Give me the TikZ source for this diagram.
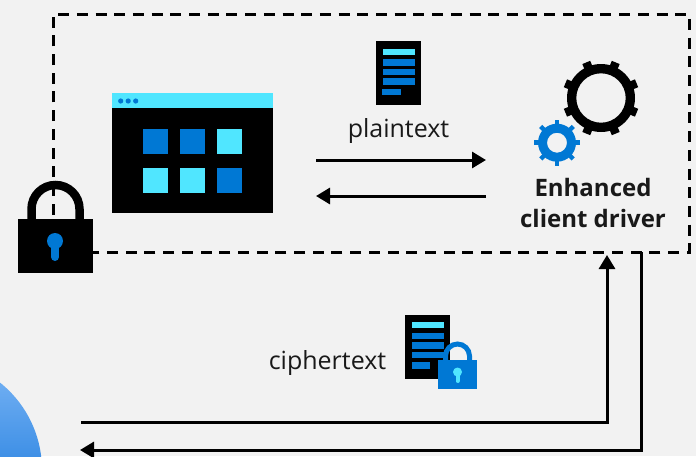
\documentclass[tikz,border=0pt]{standalone}
\usepackage{fontspec}
\setmainfont{Open Sans}
\usetikzlibrary{arrows.meta}
\definecolor{bg}{HTML}{F2F2F2}
\definecolor{azure}{HTML}{0078D4}
\definecolor{sky}{HTML}{50E6FF}
\definecolor{orbtop}{HTML}{6FAEF2}
\definecolor{orbbottom}{HTML}{3F90E6}
\tikzset{
  flow/.style={line width=3pt,-{Triangle[length=14pt,width=16pt]}},
  dashbox/.style={line width=3pt,dash pattern=on 11pt off 7.7pt},
  lbl/.style={font=\fontsize{25}{29}\selectfont,inner sep=0pt,text=black!90},
  boldlbl/.style={font=\fontsize{24}{31}\selectfont\bfseries,inner sep=0pt,align=center,text=black!90}
}
\newcommand{\rbox}[5]{\fill[#5] (#1,#2) rectangle (#3,#4);}
\newcommand{\gearshape}[7]{%
  \begin{scope}[shift={(#1,#2)}]
    \fill[#7,even odd rule] (0,0) circle[radius=#3] (0,0) circle[radius=#4];
    \foreach \a in {0,45,...,315}{
      \fill[#7,rotate=\a+\gearoff] (#3-1,-#6/2) rectangle (#5,#6/2);
    }
  \end{scope}}
\begin{document}
\begin{tikzpicture}[x=1pt,y=-1pt]
\useasboundingbox (0,0) rectangle (696,456);
\fill[bg] (0,0) rectangle (696,456);

% blue circle, bottom left
\begin{scope}
  \clip (0,0) rectangle (696,456);
  \clip (-70,470) circle[radius=112];
  \shade[top color=orbtop,bottom color=orbbottom] (-50,380) rectangle (60,456);
\end{scope}

% dashed frame
\draw[dashbox] (53,252) -- (53,14) -- (689,14) -- (689,252) -- cycle;

% padlock
\draw[line width=8.5pt] (31.5,222) -- (31.5,209) arc[start angle=180,end angle=360,radius=24] -- (79.5,222);
\fill[black] (18,219) rectangle (93,273);
\fill[azure] (55,241) circle[radius=8];
\draw[azure,line width=8pt,line cap=round] (55,243) -- (55,257);

% application window
\fill[black] (112,93) rectangle (273,213);
\fill[sky] (112,93) rectangle (273,108);
\foreach \x in {120.7,128.2,135.7} \fill[azure] (\x,101) circle[radius=2.6];
\rbox{143}{129}{168}{154}{azure}
\rbox{180}{129}{205}{154}{azure}
\rbox{217}{129}{242}{154}{sky}
\rbox{143}{168}{168}{193}{sky}
\rbox{180}{168}{205}{193}{sky}
\rbox{217}{168}{242}{193}{azure}

% plaintext document
\fill[black] (376,41) rectangle (421,105);
\rbox{383}{49}{415}{55}{sky}
\rbox{383}{59}{415}{66}{azure}
\rbox{383}{69}{415}{75}{azure}
\rbox{383}{78}{415}{85}{azure}
\rbox{382}{89}{401}{95}{azure}

% gears
\def\gearoff{22.5}
\gearshape{601}{98}{34}{24.7}{38.5}{8.5}{black}
\def\gearoff{0}
\gearshape{557}{142.7}{19}{10}{23}{4.5}{azure}

% ciphertext document with lock
\fill[black] (405,315) rectangle (450,379);
\rbox{412}{322}{444}{328}{sky}
\rbox{412}{333}{444}{339}{azure}
\rbox{412}{342}{444}{349}{azure}
\rbox{412}{352}{444}{358}{azure}
\rbox{412}{362}{430}{369}{azure}
\draw[azure,line width=5pt] (445.5,362) -- (445.5,356) arc[start angle=180,end angle=360,radius=12] -- (469.5,362);
\fill[azure] (438,360) rectangle (477,389);
\fill[sky] (457.5,372) circle[radius=4.5];
\draw[sky,line width=4pt,line cap=round] (457.5,373) -- (457.5,381);

% labels
\node[lbl] (plain) at (398.5,131) {plaintext};
\node[lbl] (cipher) at (327.5,363) {ciphertext};
\node[boldlbl] (driver) at (593,203) {Enhanced\\client driver};

% connectors
\coordinate (pa) at (316,160); \coordinate (pb) at (486,160);
\coordinate (qa) at (486,196); \coordinate (qb) at (316,196);
\coordinate (ua) at (81,422);  \coordinate (ub) at (607,422); \coordinate (uc) at (607,255);
\coordinate (da) at (641,252); \coordinate (db) at (641,450); \coordinate (dc) at (80,450);
\draw[flow] (pa) -- (pb);
\draw[flow] (qa) -- (qb);
\draw[flow] (ua) -- (ub) -- (uc);
\draw[flow] (da) -- (db) -- (dc);
\end{tikzpicture}
\end{document}
